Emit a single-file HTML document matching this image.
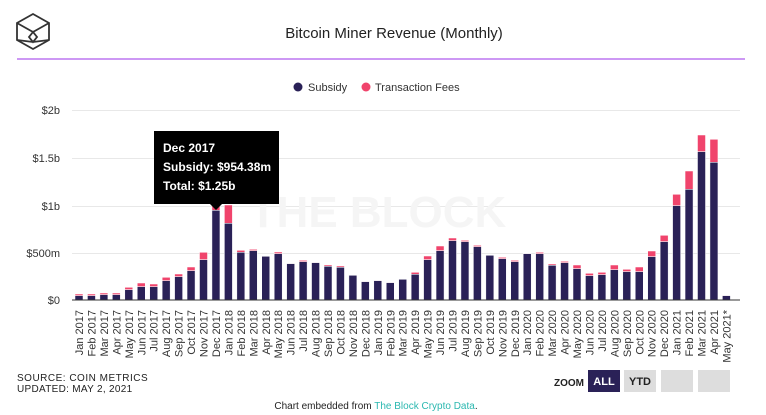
<!DOCTYPE html>
<html><head><meta charset="utf-8"><style>
body{margin:0;background:#fff;width:766px;height:415px;overflow:hidden;font-family:"Liberation Sans",sans-serif;position:relative}
.abs{position:absolute}
</style></head><body>
<svg class="abs" style="left:0;top:0" width="766" height="415" xmlns="http://www.w3.org/2000/svg">
<g fill="none" stroke="#333" stroke-width="1.8">
<path d="M33 14 L49 23 L49 40 L33 49 L17 40 L17 23 Z"/>
<path d="M17 23 L33 32 L49 23 M33 32 L29 37 L33 42 L37 37 Z M17 40 L33 42 L49 40"/>
</g>
<text x="394" y="38" text-anchor="middle" font-size="15" fill="#222">Bitcoin Miner Revenue (Monthly)</text>
<line x1="17" y1="59" x2="745" y2="59" stroke="#9b30e8" stroke-width="1"/>
<circle cx="298" cy="87" r="4.5" fill="#2a2157"/>
<text x="308" y="91" font-size="11" fill="#333">Subsidy</text>
<circle cx="366" cy="87" r="4.5" fill="#f0446c"/>
<text x="375" y="91" font-size="11" fill="#333">Transaction Fees</text>
<g stroke="#e8e8e8" stroke-width="1">
<line x1="72" y1="110.5" x2="740" y2="110.5"/><line x1="72" y1="158.5" x2="740" y2="158.5"/>
<line x1="72" y1="206.5" x2="740" y2="206.5"/><line x1="72" y1="253.5" x2="740" y2="253.5"/>
</g>
<text x="378" y="227" text-anchor="middle" font-size="44" font-weight="bold" fill="#f5f5f5">THE BLOCK</text>
<g font-size="11" fill="#333" text-anchor="end">
<text x="60" y="114">$2b</text><text x="60" y="162">$1.5b</text><text x="60" y="210">$1b</text><text x="60" y="257">$500m</text><text x="60" y="304">$0</text>
</g>
<g id="bars"></g>
<line x1="72" y1="300" x2="740" y2="300" stroke="#333" stroke-width="1"/>
<g id="lbl" font-size="11" fill="#333" text-anchor="end">
<text transform="translate(83,310) rotate(-90)">Jan 2017</text>
<text transform="translate(95.5,310) rotate(-90)">Feb 2017</text>
<text transform="translate(108,310) rotate(-90)">Mar 2017</text>
<text transform="translate(120.4,310) rotate(-90)">Apr 2017</text>
<text transform="translate(132.8,310) rotate(-90)">May 2017</text>
<text transform="translate(145.3,310) rotate(-90)">Jun 2017</text>
<text transform="translate(157.7,310) rotate(-90)">Jul 2017</text>
<text transform="translate(170.2,310) rotate(-90)">Aug 2017</text>
<text transform="translate(182.6,310) rotate(-90)">Sep 2017</text>
<text transform="translate(195.1,310) rotate(-90)">Oct 2017</text>
<text transform="translate(207.5,310) rotate(-90)">Nov 2017</text>
<text transform="translate(220,310) rotate(-90)">Dec 2017</text>
<text transform="translate(232.4,310) rotate(-90)">Jan 2018</text>
<text transform="translate(244.9,310) rotate(-90)">Feb 2018</text>
<text transform="translate(257.3,310) rotate(-90)">Mar 2018</text>
<text transform="translate(269.8,310) rotate(-90)">Apr 2018</text>
<text transform="translate(282.2,310) rotate(-90)">May 2018</text>
<text transform="translate(294.7,310) rotate(-90)">Jun 2018</text>
<text transform="translate(307.1,310) rotate(-90)">Jul 2018</text>
<text transform="translate(319.6,310) rotate(-90)">Aug 2018</text>
<text transform="translate(332,310) rotate(-90)">Sep 2018</text>
<text transform="translate(344.5,310) rotate(-90)">Oct 2018</text>
<text transform="translate(356.9,310) rotate(-90)">Nov 2018</text>
<text transform="translate(369.4,310) rotate(-90)">Dec 2018</text>
<text transform="translate(381.8,310) rotate(-90)">Jan 2019</text>
<text transform="translate(394.3,310) rotate(-90)">Feb 2019</text>
<text transform="translate(406.7,310) rotate(-90)">Mar 2019</text>
<text transform="translate(419.2,310) rotate(-90)">Apr 2019</text>
<text transform="translate(431.6,310) rotate(-90)">May 2019</text>
<text transform="translate(444.1,310) rotate(-90)">Jun 2019</text>
<text transform="translate(456.5,310) rotate(-90)">Jul 2019</text>
<text transform="translate(469,310) rotate(-90)">Aug 2019</text>
<text transform="translate(481.4,310) rotate(-90)">Sep 2019</text>
<text transform="translate(493.9,310) rotate(-90)">Oct 2019</text>
<text transform="translate(506.3,310) rotate(-90)">Nov 2019</text>
<text transform="translate(518.8,310) rotate(-90)">Dec 2019</text>
<text transform="translate(531.2,310) rotate(-90)">Jan 2020</text>
<text transform="translate(543.7,310) rotate(-90)">Feb 2020</text>
<text transform="translate(556.1,310) rotate(-90)">Mar 2020</text>
<text transform="translate(568.6,310) rotate(-90)">Apr 2020</text>
<text transform="translate(581,310) rotate(-90)">May 2020</text>
<text transform="translate(593.5,310) rotate(-90)">Jun 2020</text>
<text transform="translate(605.9,310) rotate(-90)">Jul 2020</text>
<text transform="translate(618.4,310) rotate(-90)">Aug 2020</text>
<text transform="translate(630.8,310) rotate(-90)">Sep 2020</text>
<text transform="translate(643.3,310) rotate(-90)">Oct 2020</text>
<text transform="translate(655.7,310) rotate(-90)">Nov 2020</text>
<text transform="translate(668.2,310) rotate(-90)">Dec 2020</text>
<text transform="translate(680.6,310) rotate(-90)">Jan 2021</text>
<text transform="translate(693.1,310) rotate(-90)">Feb 2021</text>
<text transform="translate(705.5,310) rotate(-90)">Mar 2021</text>
<text transform="translate(718,310) rotate(-90)">Apr 2021</text>
<text transform="translate(730.4,310) rotate(-90)">May 2021*</text>
</g>
<path d="M154 131 H279 V204 H222 L216 210 L210 204 H154 Z" fill="#000"/>
<g fill="#fff" font-size="12" font-weight="bold">
<text x="163" y="152">Dec 2017</text><text x="163" y="171">Subsidy: $954.38m</text><text x="163" y="190">Total: $1.25b</text>
</g>
<text x="17" y="381" font-size="10" fill="#222" letter-spacing="0.5">SOURCE: COIN METRICS</text>
<text x="17" y="392" font-size="10" fill="#222" letter-spacing="0.3">UPDATED: MAY 2, 2021</text>
<text x="584" y="386" text-anchor="end" font-size="10" font-weight="bold" fill="#222">ZOOM</text>
<rect x="588" y="370" width="32" height="22" fill="#2a2157"/>
<text x="604" y="385" text-anchor="middle" font-size="11" font-weight="bold" fill="#fff">ALL</text>
<rect x="624" y="370" width="32" height="22" fill="#ddd"/>
<text x="640" y="385" text-anchor="middle" font-size="11" font-weight="bold" fill="#222">YTD</text>
<rect x="661" y="370" width="32" height="22" fill="#ddd"/>
<rect x="698" y="370" width="32" height="22" fill="#ddd"/>
<text x="376" y="409" text-anchor="middle" font-size="10" fill="#222">Chart embedded from <tspan fill="#2bb8b0">The Block Crypto Data</tspan>.</text>
</svg>
<script>
var d=[[582,587],[582,587],[579,584],[579,584],[562,569],[549,560],[552,560],[532,542],[522,530],[501,512],[457,479],[248,331],[315,370],[451,457],[448,452],[468,469],[456,461],[490,491],[481,485],[487,488],[495,499],[498,502],[525,526],[544,545],[541,542],[547,548],[537,538],[517,523],[468,479],[438,452],[414,422],[421,425],[436,440],[465,466],[472,476],[481,485],[460,461],[457,461],[492,496],[484,488],[495,506],[520,527],[517,524],[495,509],[508,515],[501,515],[453,470],[406,425],[283,317],[213,268],[105,155],[118,187],[586,587]];
var g=document.getElementById('bars'),s='';
d.forEach(function(v,i){var cx=79+12.45*i,x=cx-4,t=100+v[0]/3,b=100+v[1]/3;
s+='<rect x="'+x+'" y="'+t+'" width="8" height="'+(b-t)+'" fill="#f0446c" stroke="#fff" stroke-width="0.5"/>';
s+='<rect x="'+x+'" y="'+b+'" width="8" height="'+(300-b)+'" fill="#2a2157" stroke="#fff" stroke-width="0.5"/>';});
g.innerHTML=s;
</script>
</body></html>
